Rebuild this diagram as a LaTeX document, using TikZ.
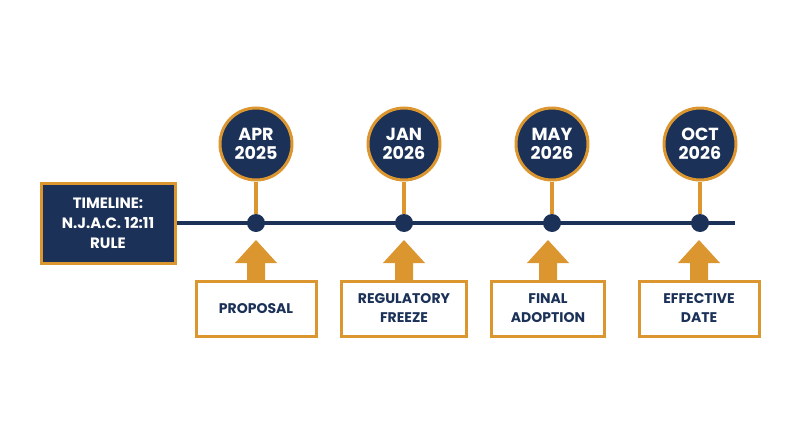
\documentclass[tikz,border=0pt]{standalone}
\usepackage{fontspec}
\setmainfont{Poppins}[BoldFont={* Bold}]
\definecolor{navy}{HTML}{1B3158}
\definecolor{gold}{HTML}{DB9630}
\begin{document}
\begin{tikzpicture}[x=1pt,y=-1pt,
  date/.style={circle,draw=gold,line width=3pt,fill=navy,minimum size=72pt,inner sep=0pt,text=white,font=\bfseries\fontsize{17.5}{18.5}\selectfont,align=center},
  dot/.style={circle,fill=navy,minimum size=18pt,inner sep=0pt},
  lab/.style={draw=gold,line width=3pt,fill=white,minimum height=55pt,text=navy,font=\bfseries\fontsize{14}{19}\selectfont,align=center},
  arr/.style={fill=gold}]
\useasboundingbox (0,0) rectangle (800,447);
\node[draw=gold,line width=3pt,fill=navy,text=white,minimum width=134pt,minimum height=80pt,inner sep=1pt,align=center,font=\bfseries\fontsize{15}{20}\selectfont] (title) at (108,223) {TIMELINE:\\N.J.A.C. 12:11\\RULE};
\coordinate (end) at (735,223);
\draw[navy,line width=4pt] (title.east) -- (end);
\foreach \n/\x/\d/\bx/\bw/\t in {a/256/APR\\2025/256/120/PROPOSAL, b/404/JAN\\2026/404/125/REGULATORY\\FREEZE, c/552/MAY\\2026/548/113/FINAL\\ADOPTION, d/700/OCT\\2026/699/120/EFFECTIVE\\DATE}{
  \node[date] (c\n) at (\x,144) {\d};
  \node[dot] (d\n) at (\x,223) {};
  \draw[gold,line width=4pt] (c\n.south) -- (d\n.north);
  \fill[arr] (\bx-9,282) -- (\bx-9,263) -- (\bx-21,263) -- (\bx,240) -- (\bx+21,263) -- (\bx+9,263) -- (\bx+9,282) -- cycle;
  \node[lab,minimum width=\bw pt,inner sep=1pt] (b\n) at (\bx,308.5) {\t};
}
\end{tikzpicture}
\end{document}
